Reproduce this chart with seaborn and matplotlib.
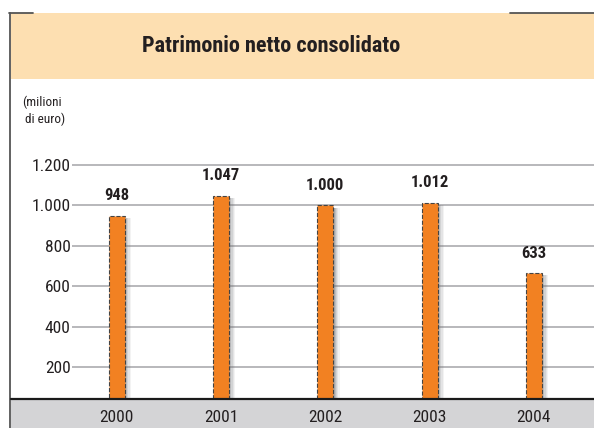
import matplotlib
matplotlib.use("Agg")
import matplotlib.pyplot as plt
import seaborn as sns
import pandas as pd
from matplotlib.patches import Rectangle
from matplotlib.lines import Line2D

# ---- data ----
years = ["2000", "2001", "2002", "2003", "2004"]
bar_heights = [948, 1047, 1000, 1012, 665]          # heights as drawn
value_labels = ["948", "1.047", "1.000", "1.012", "633"]  # printed labels
ytick_values = [200, 400, 600, 800, 1000, 1200]
ytick_labels = ["200", "400", "600", "800", "1.000", "1.200"]
title = "Patrimonio netto consolidato"
unit_label = "(milioni\n di euro)"

sns.set_style("white")
FONT = ["Roboto Condensed", "Archivo Narrow", "PT Sans Narrow", "DejaVu Sans"]
plt.rcParams["font.family"] = FONT

W, H = 594, 428
fig = plt.figure(figsize=(W / 100, H / 100), dpi=100)
fig.patch.set_facecolor("white")

def fx(x): return x / W
def fy(y): return 1 - y / H

ORANGE = "#F28122"
PEACH = "#FDDFB1"
BAND = "#D4D4D6"
GRID = "#ABABAF"
TXT = "#231F20"

# header band
fig.patches.append(Rectangle((fx(11), fy(79)), fx(594) - fx(11), fy(13) - fy(79),
                             transform=fig.transFigure, facecolor=PEACH, edgecolor="none", zorder=-5))
# bottom band
fig.patches.append(Rectangle((fx(11), fy(428)), fx(594) - fx(11), fy(400) - fy(428),
                             transform=fig.transFigure, facecolor=BAND, edgecolor="none", zorder=-5))
# frame lines
fig.lines.append(Line2D([fx(10), fx(10)], [fy(13), fy(428)], transform=fig.transFigure,
                        color="#555555", lw=1.3, zorder=-4))
fig.lines.append(Line2D([fx(9), fx(33)], [fy(13), fy(13)], transform=fig.transFigure,
                        color="#555555", lw=1.3, zorder=-4))
fig.lines.append(Line2D([fx(510), fx(594)], [fy(13), fy(13)], transform=fig.transFigure,
                        color="#555555", lw=1.3, zorder=-4))
fig.lines.append(Line2D([fx(11), fx(594)], [fy(399), fy(399)], transform=fig.transFigure,
                        color="#1a1a1a", lw=1.6, zorder=5))

fig.text(fx(271), fy(46), title, ha="center", va="center", fontsize=16,
         fontweight="bold", color=TXT, family=FONT)
fig.text(fx(22), fy(111), unit_label, ha="left", va="center", fontsize=9.5,
         color=TXT, family=FONT, linespacing=1.4)

# axes
ax = fig.add_axes([fx(72), fy(399), fx(594) - fx(72), fy(79) - fy(399)])
ax.set_facecolor("none")
df = pd.DataFrame({"year": years, "value": bar_heights})
sns.barplot(data=df, x="year", y="value", ax=ax, color=ORANGE, width=0.153,
            edgecolor="#444444", linewidth=0.8, linestyle="--", saturation=1, zorder=3)

px_per_unit = 0.202
ymin = (407.4 - 399) / px_per_unit
ymax = (407.4 - 79) / px_per_unit
ax.set_ylim(ymin, ymax)
ax.set_xlim((72 - 116.7) / 104.3, (594 - 116.7) / 104.3)

for v in ytick_values:
    ax.axhline(v, color=GRID, lw=1.2, zorder=1)

# shadows and labels
for p, lab in zip(ax.patches[:len(years)], value_labels):
    x0, w, h = p.get_x(), p.get_width(), p.get_height()
    for k, a in enumerate([0.6, 0.45, 0.3, 0.18, 0.08]):
        ax.add_patch(Rectangle((x0 + w + k * 0.012, ymin), 0.012, h - ymin - 12,
                               facecolor="#6d6e71", alpha=a, edgecolor="none", zorder=2))
    ax.text(x0 + w / 2, h + 20 / px_per_unit, lab, ha="center", va="center",
            fontsize=12, fontweight="bold", color=TXT, family=FONT, zorder=4)

ax.set_yticks(ytick_values)
ax.set_yticklabels(ytick_labels)
ax.set_xlabel("")
ax.set_ylabel("")
ax.tick_params(axis="y", length=0, pad=1, labelsize=12.5, labelcolor=TXT)
ax.tick_params(axis="x", length=0, pad=8, labelsize=12.5, labelcolor=TXT)
for s in ax.spines.values():
    s.set_visible(False)
ax.grid(False)

fig.savefig("out.png", dpi=100)
